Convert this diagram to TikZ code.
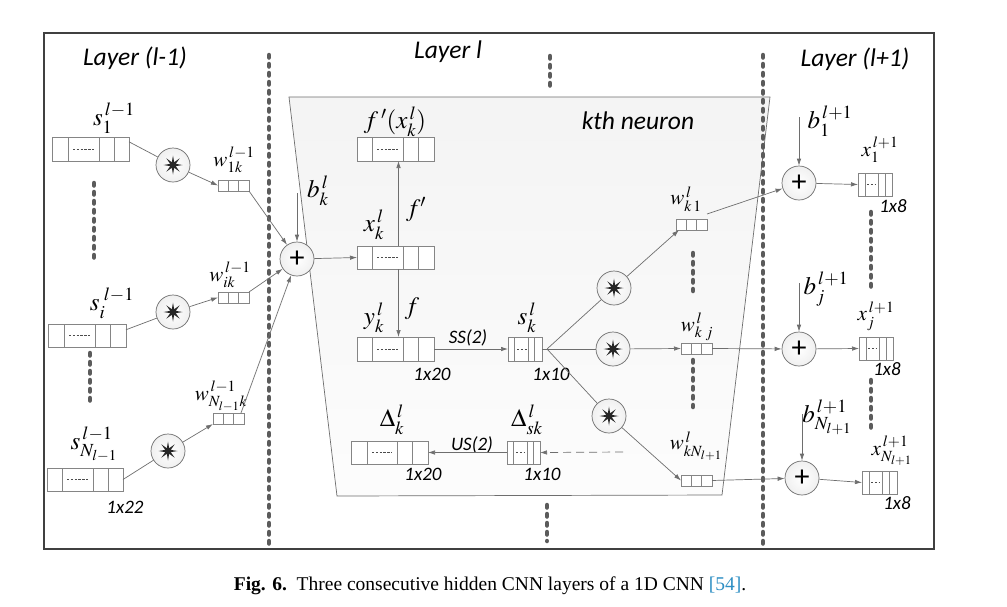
\documentclass[tikz,border=0pt]{standalone}
\usepackage{mathptmx}
\usepackage[no-math]{fontspec}
\setmainfont{Liberation Serif}
\newfontfamily\calfont{Carlito}
\usetikzlibrary{arrows.meta,shapes.geometric,calc}
\definecolor{ln}{HTML}{6E6E6E}
\definecolor{bx}{HTML}{858585}
\definecolor{dotc}{HTML}{5B5B5B}
\definecolor{capblue}{HTML}{2E8FC4}
\tikzset{
  conn/.style={draw=ln, line width=0.7pt},
  arr/.style={conn, -{Latex[length=7pt,width=4.5pt]}},
  vecbox/.style={draw=bx, fill=white, line width=0.7pt, inner sep=0pt, outer sep=0pt},
  boxl/.style={draw=bx, line width=0.7pt},
  celldash/.style={draw=black!70, line width=0.8pt, dash pattern=on 2.4pt off 1.4pt},
  opc/.style={circle, draw=ln, inner color=white, outer color=gray!12, minimum size=34pt, inner sep=0pt, line width=0.7pt},
  plusc/.style={opc, font=\calfont\fontsize{30}{30}\selectfont},
  starmark/.style={star, star points=8, star point ratio=3.2, fill=black!85, minimum size=19pt, inner sep=0pt},
  sepline/.style={draw=dotc, line width=4.5pt, line cap=round, dash pattern=on 2.5pt off 6.5pt},
  lab/.style={inner sep=0pt, font=\fontsize{25}{25}\selectfont},
  labw/.style={inner sep=0pt, font=\fontsize{21}{21}\selectfont},
  sz/.style={inner sep=0pt, font=\calfont\itshape\fontsize{19}{19}\selectfont},
  ttl/.style={inner sep=0pt, font=\calfont\itshape\fontsize{25.5}{25.5}\selectfont},
}
\newcommand\cellbox[8]{%
  \node[vecbox, anchor=north west, minimum width=#4pt, minimum height=#5pt] (#1) at (#2,#3) {};
  \foreach \d in {#6}{\draw[boxl] ($(#1.north west)+(\d,0)$) -- ($(#1.south west)+(\d,0)$);}
  \draw[celldash] ($(#1.west)+(#7,0)$) -- ($(#1.west)+(#8,0)$);
}
\newcommand\wbox[3]{%
  \node[vecbox, anchor=north west, minimum width=31pt, minimum height=11pt] (#1) at (#2,#3) {};
  \foreach \d in {10.33,20.67}{\draw[boxl] ($(#1.north west)+(\d,0)$) -- ($(#1.south west)+(\d,0)$);}
}
\begin{document}
\begin{tikzpicture}[x=1pt,y=-1pt]
\useasboundingbox (0,0) rectangle (1007,606);
\fill[white] (0,0) rectangle (1007,606);
% frame
\draw[line width=1.4pt, draw=black!75] (44,33) rectangle (934,549);
% neuron trapezoid
\shade[top color=gray!9, bottom color=gray!2] (289,97) -- (770,97) -- (722,495) -- (337,496) -- cycle;
\draw[draw=ln, line width=0.7pt] (289,97) -- (770,97) -- (722,495) -- (337,496) -- cycle;
% dotted separators
\draw[sepline] (269,55) -- (269,545);
\draw[sepline] (763,55) -- (763,545);
\draw[sepline] (94,183) -- (94,260);
\draw[sepline] (90,353) -- (90,401);
\draw[sepline] (550,56) -- (550,88);
\draw[sepline] (547,505) -- (547,541);
\draw[sepline] (693,253) -- (693,291);
\draw[sepline] (693,360) -- (693,407);
\draw[sepline] (871,212) -- (871,292);
\draw[sepline] (871,380) -- (871,431);
% titles
\node[ttl] (tl1) at (135,58) {Layer (l-1)};
\node[ttl] (tl2) at (448,52) {Layer l};
\node[ttl] (tl3) at (855,59) {Layer (l+1)};
\node[ttl] (tkth) at (638,121) {kth neuron};
% left layer vectors
\cellbox{s1}{52}{137}{77}{24}{16,47,62}{21}{43}
\cellbox{si}{48}{324}{78}{23}{16,47,62}{21}{43}
\cellbox{sN}{47}{468}{76}{23}{15,46,61}{20}{42}
\node[lab] (ls1) at (114,118) {$s_{1}^{\,l-1}$};
\node[lab] (lsi) at (112,303) {$s_{i}^{\;l-1}$};
\node[lab] (lsN) at (94,444) {$s_{N_{l-1}}^{\,l-1}$};
\node[sz] (n22) at (125,507) {1x22};
% convolution circles (left)
\node[opc] (c1) at (173,165) {};
\node[starmark] (c1s) at (c1) {};
\node[opc] (c2) at (173,312) {};
\node[starmark] (c2s) at (c2) {};
\node[opc] (c3) at (168,451) {};
\node[starmark] (c3s) at (c3) {};
% weight kernels (left)
\wbox{w1k}{218}{180}
\wbox{wik}{218}{292}
\wbox{wNk}{213}{413}
\node[labw] (lw1k) at (234,160) {$w_{1k}^{\,l-1}$};
\node[labw] (lwik) at (230,275) {$w_{ik}^{\,l-1}$};
\node[labw] (lwNk) at (221,396) {$w_{N_{l-1}k}^{\,l-1}$};
% kth neuron
\node[plusc] (pk) at (297,259) {+};
\coordinate (bkt) at (297,193);
\node[lab] (lbk) at (318,191) {$b_{k}^{\,l}$};
\cellbox{fx}{357}{137}{77}{24}{15,46,61}{20}{42}
\cellbox{xk}{357}{246}{77}{23}{15,46,61}{20}{42}
\cellbox{yk}{357}{337}{77}{24}{15,46,61}{20}{42}
\cellbox{dk}{351}{441}{77}{23}{16,46,61}{21}{41}
\cellbox{sk}{508}{337}{34}{24}{6.7,20.7,26.3}{9}{18.5}
\cellbox{dsk}{507}{441}{33}{23}{6.7,20.3,26}{9}{18}
\node[lab] (lfx) at (395,122) {$f\,'(x_{k}^{\,l})$};
\node[lab] (lxk) at (374,225) {$x_{k}^{\,l}$};
\node[lab] (lfp) at (416,210) {$f'$};
\node[lab] (lyk) at (374,318) {$y_{k}^{\,l}$};
\node[lab] (lf) at (412,309) {$f$};
\node[lab] (lsk) at (527,318) {$s_{k}^{\,l}$};
\node[lab] (ldk) at (392,420) {$\Delta_{k}^{\,l}$};
\node[lab] (ldsk) at (527,420) {$\Delta_{sk}^{\,l}$};
\node[sz] (lss) at (468,338) {SS(2)};
\node[sz] (lus) at (472,445) {US(2)};
\node[sz] (n20a) at (432,374) {1x20};
\node[sz] (n10a) at (551,374) {1x10};
\node[sz] (n20b) at (423,474) {1x20};
\node[sz] (n10b) at (542,474) {1x10};
\coordinate (fan) at (547,349);
\coordinate (dtail) at (623,452);
\node[opc] (ca) at (614,288) {};
\node[starmark] (cas) at (ca) {};
\node[opc] (cb) at (613,349) {};
\node[starmark] (cbs) at (cb) {};
\node[opc] (cc) at (609,416) {};
\node[starmark] (ccs) at (cc) {};
\wbox{wk1}{676}{219}
\wbox{wkj}{681}{343}
\wbox{wkN}{681}{475}
\node[labw] (lwk1) at (686,199) {$w_{k\,1}^{\,l}$};
\node[labw] (lwkj) at (697,327) {$w_{k\;j}^{\,l}$};
\node[labw] (lwkN) at (696,446) {$w_{kN_{l+1}}^{\,l}$};
% next layer
\node[plusc] (p1) at (799,183) {+};
\node[plusc] (pj) at (799,349) {+};
\node[plusc] (pN) at (802,478) {+};
\coordinate (b1t) at (799,117);
\coordinate (bjt) at (799,283);
\coordinate (bNt) at (802,414);
\node[lab] (lb1) at (830,121) {$b_{1}^{\,l+1}$};
\node[lab] (lbj) at (826,289) {$b_{j}^{\,l+1}$};
\node[lab] (lbN) at (827,417) {$b_{N_{l+1}}^{\,l+1}$};
\cellbox{x1}{858}{173}{34}{23}{7,20,27}{9}{18}
\cellbox{xj}{859}{337}{34}{23}{7,20,27}{9}{18}
\cellbox{xN}{862}{471}{35}{23}{7,20,27}{9}{18}
\node[labw] (lx1) at (880,150) {$x_{1}^{\,l+1}$};
\node[labw] (lxj) at (876,316) {$x_{j}^{\,l+1}$};
\node[labw] (lxN) at (892,451) {$x_{N_{l+1}}^{\,l+1}$};
\node[sz] (n8a) at (893,206) {1x8};
\node[sz] (n8b) at (887,369) {1x8};
\node[sz] (n8c) at (897,503) {1x8};
% connectors left
\draw[conn] ($(s1.north east)!0.2!(s1.south east)$) -- (c1);
\draw[arr] (c1) -- (w1k.west);
\draw[arr] (w1k.south east) -- (pk);
\draw[conn] ($(si.north east)!0.25!(si.south east)$) -- (c2);
\draw[arr] (c2) -- (wik.west);
\draw[arr] (wik.north east) -- (pk);
\draw[conn] (sN.east) -- (c3);
\draw[arr] (c3) -- (wNk.south west);
\draw[arr] ($(wNk.north east)+(-3,0)$) -- (pk);
% connectors middle
\draw[arr] (bkt) -- (pk);
\draw[arr] (pk) -- (xk.west);
\draw[arr] ($(xk.north)+(3,0)$) -- ($(fx.south)+(3,0)$);
\draw[arr] ($(xk.south)+(3,0)$) -- ($(yk.north)+(3,0)$);
\draw[arr] (yk.east) -- (sk.west);
\draw[conn] (sk.east) -- (fan);
\draw[conn] (fan) -- (ca);
\draw[conn] (fan) -- (cb);
\draw[conn] (fan) -- (cc);
\draw[arr] (ca) -- ($(wk1.south west)+(3,0)$);
\draw[arr] (cb) -- (wkj.west);
\draw[arr] (cc) -- (wkN.west);
\draw[arr] (dsk.west) -- (dk.east);
\draw[arr, dash pattern=on 8pt off 5pt] (dtail) -- (dsk.east);
% connectors right
\draw[arr] ($(wk1.north east)+(0,-5)$) -- (p1);
\draw[arr] (wkj.east) -- (pj);
\draw[arr] (wkN.east) -- (pN);
\draw[arr] (b1t) -- (p1);
\draw[arr] (bjt) -- (pj);
\draw[arr] (bNt) -- (pN);
\draw[arr] (p1) -- (x1.west);
\draw[arr] (pj) -- (xj.west);
\draw[arr] (pN) -- (xN.west);
% caption
\node[inner sep=0pt, font=\fontsize{19.5}{19.5}\selectfont] (cap) at (490,586) {\textbf{Fig. 6.}\ \ Three consecutive hidden CNN layers of a 1D CNN \textcolor{capblue}{[54]}.};
\end{tikzpicture}
\end{document}
